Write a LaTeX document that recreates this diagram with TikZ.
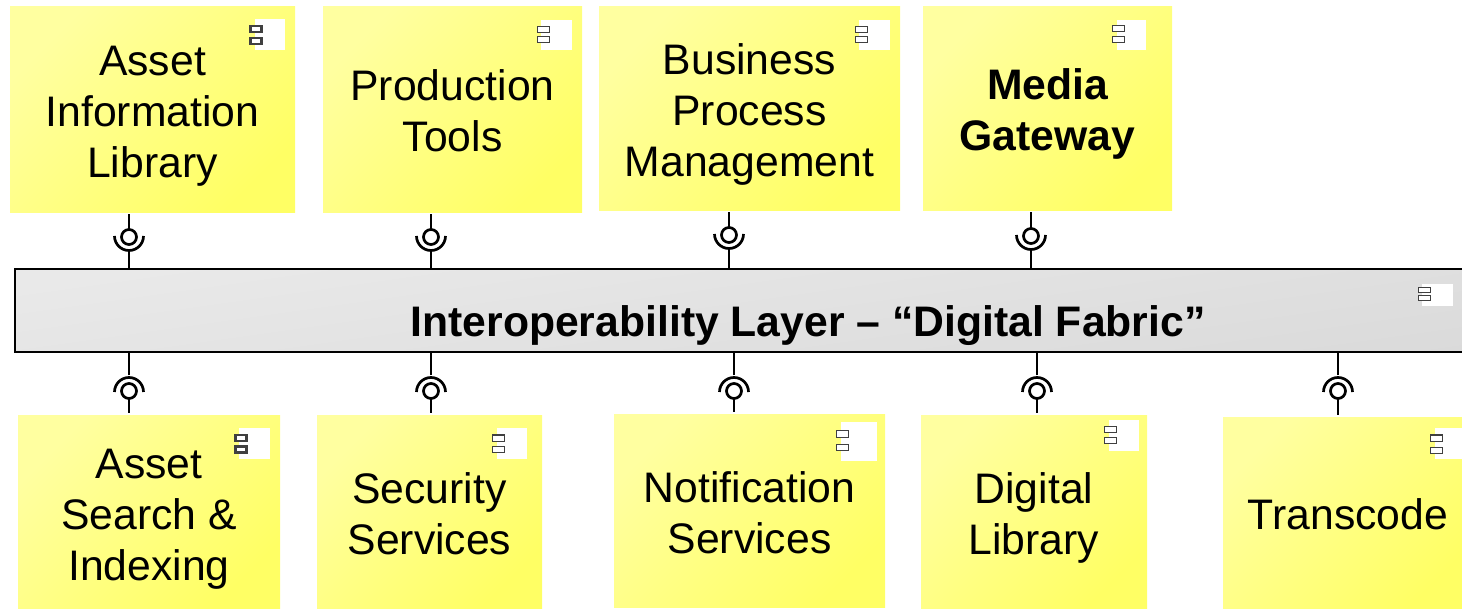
\documentclass[tikz,border=0pt]{standalone}
\usepackage{fontspec}
\setmainfont{Liberation Sans}
\definecolor{yellowlight}{HTML}{FFFFA0}
\definecolor{yellowmid}{HTML}{FFFF6E}
\definecolor{yellowdeep}{HTML}{FFFF64}
\definecolor{layerlight}{HTML}{E9E9E9}
\definecolor{layerdeep}{HTML}{DADADA}
\tikzset{
  x=1pt,y=-1pt,
  comp/.style={rectangle,anchor=north west,inner sep=0pt,outer sep=0pt,align=center,text=black,
    font=\fontsize{42.7}{51}\selectfont,
    top color=yellowlight,middle color=yellowmid,bottom color=yellowdeep,shading angle=45},
  layerbox/.style={rectangle,anchor=north west,inner sep=0pt,outer sep=0pt,align=center,
    draw=black,line width=2.7pt,font=\fontsize{42.7}{51}\selectfont\bfseries,
    top color=layerlight,bottom color=layerdeep,shading angle=8},
  iconpad/.style={rectangle,anchor=north west,fill=white,inner sep=0pt,outer sep=0pt},
  iconbar/.style={rectangle,anchor=north west,draw=black!75,fill=white,inner sep=0pt,outer sep=0pt},
  conn/.style={draw=black,line width=2.7pt},
  ball/.style={circle,draw=black,line width=2.7pt,fill=white,minimum size=15pt,inner sep=0pt,outer sep=0pt},
}
% push a node's text down by #1 pt: taller first line
\newcommand{\dn}[1]{\rule{0pt}{\dimexpr 31pt+#1pt+#1pt\relax}}
\newcommand{\compbox}[6]{% name x0 y0 x1 y1 text
  \node[comp,minimum width=#4pt-#2pt,minimum height=#5pt-#3pt] (#1) at (#2,#3) {#6};}
\newcommand{\iconlw}{1pt}
\newcommand{\barh}{6pt}
\newcommand{\barw}{12pt}
\newcommand{\compicon}[8]{% name padx pady padw padh barx bary1 bary2
  \node[iconpad,minimum width=#4pt,minimum height=#5pt] (#1p) at (#2,#3) {};
  \node[iconbar,line width=\iconlw,minimum width=\barw,minimum height=\barh] (#1a) at (#6,#7) {};
  \node[iconbar,line width=\iconlw,minimum width=\barw,minimum height=\barh] (#1b) at (#6,#8) {};}
\newcommand{\upperjoint}[4]{% ball-name x y box-name
  \node[ball] (#1) at (#2,#3) {};
  \draw[conn] (#1.north) -- ([yshift=-1pt]#1.north |- #4.south);
  \draw[conn] (#1.south) ++(0,6) -- (#1.south |- layer.north);
  \draw[conn] ([xshift=-14.5pt]#1.center) ++(0,-1) arc[start angle=180,end angle=360,radius=14.5pt];}
\newcommand{\lowerjoint}[4]{% ball-name x y box-name
  \node[ball] (#1) at (#2,#3) {};
  \draw[conn] (#1.south) -- ([yshift=3pt]#1.south |- #4.north);
  \draw[conn] (#1.north) ++(0,-8) -- (#1.north |- layer.south);
  \draw[conn] ([xshift=-14.5pt]#1.center) ++(0,1) arc[start angle=180,end angle=0,radius=14.5pt];}
\begin{document}
\begin{tikzpicture}
\useasboundingbox (0,0) rectangle (1462,609);
% layer
\node[layerbox,minimum width=1586pt,minimum height=83pt] (layer) at (15,269) {\dn{15}Interoperability Layer -- “Digital Fabric”};
% upper components
\compbox{ail}{10}{7}{295}{213}{\dn{5.5}Asset\\Information\\Library}
\compbox{pt}{323}{7}{582}{213}{\dn{1}Production\\Tools}
\compbox{bpm}{599}{7}{900}{211}{\dn{5.5}Business\\Process\\Management}
\compbox{mg}{923}{7}{1172}{211}{\dn{5}\bfseries Media\\\bfseries Gateway}
% lower components
\compbox{asi}{18}{416}{280}{609}{\dn{5.5}Asset\\Search \&\\Indexing}
\compbox{sec}{317}{416}{542}{609}{\dn{1}Security\\Services}
\compbox{nt}{614}{415}{885}{607}{\dn{2}Notification\\Services}
\compbox{dl}{921}{416}{1147}{609}{\dn{5}Digital\\Library}
\compbox{tc}{1223}{418}{1473}{609}{\dn{1}Transcode}
% icons
\renewcommand{\iconlw}{2.2pt}
\renewcommand{\barh}{6pt}
\renewcommand{\barw}{11pt}
\compicon{ia}{255}{19}{30}{31}{250.5}{26.2}{37.9}
\compicon{ie}{239}{428}{31}{31}{235.5}{435}{446.5}
\renewcommand{\iconlw}{1pt}
\renewcommand{\barw}{12pt}
\compicon{ib}{541}{20}{31}{30}{537}{27}{37}
\compicon{ic}{859}{20}{31}{30}{855}{27}{37}
\compicon{id}{1117}{20}{29}{30}{1112}{26}{37}
\compicon{if}{497}{428}{30}{31}{492}{435}{446}
\compicon{ig}{841}{422}{36}{39}{836}{431}{444}
\compicon{ih}{1109}{420}{30}{31}{1104}{427}{437}
\compicon{ii}{1435}{428}{31}{31}{1430}{435}{447}
\renewcommand{\barh}{5pt}
\compicon{il}{1422}{284}{31}{22}{1418}{288}{296}
% connectors
\upperjoint{u1}{129}{237}{ail}
\upperjoint{u2}{431}{237}{pt}
\upperjoint{u3}{729}{235}{bpm}
\upperjoint{u4}{1031}{236}{mg}
\lowerjoint{l1}{129}{391}{asi}
\lowerjoint{l2}{431}{391}{sec}
\lowerjoint{l3}{734}{391}{nt}
\lowerjoint{l4}{1037}{391}{dl}
\lowerjoint{l5}{1338}{391}{tc}
\end{tikzpicture}
\end{document}
